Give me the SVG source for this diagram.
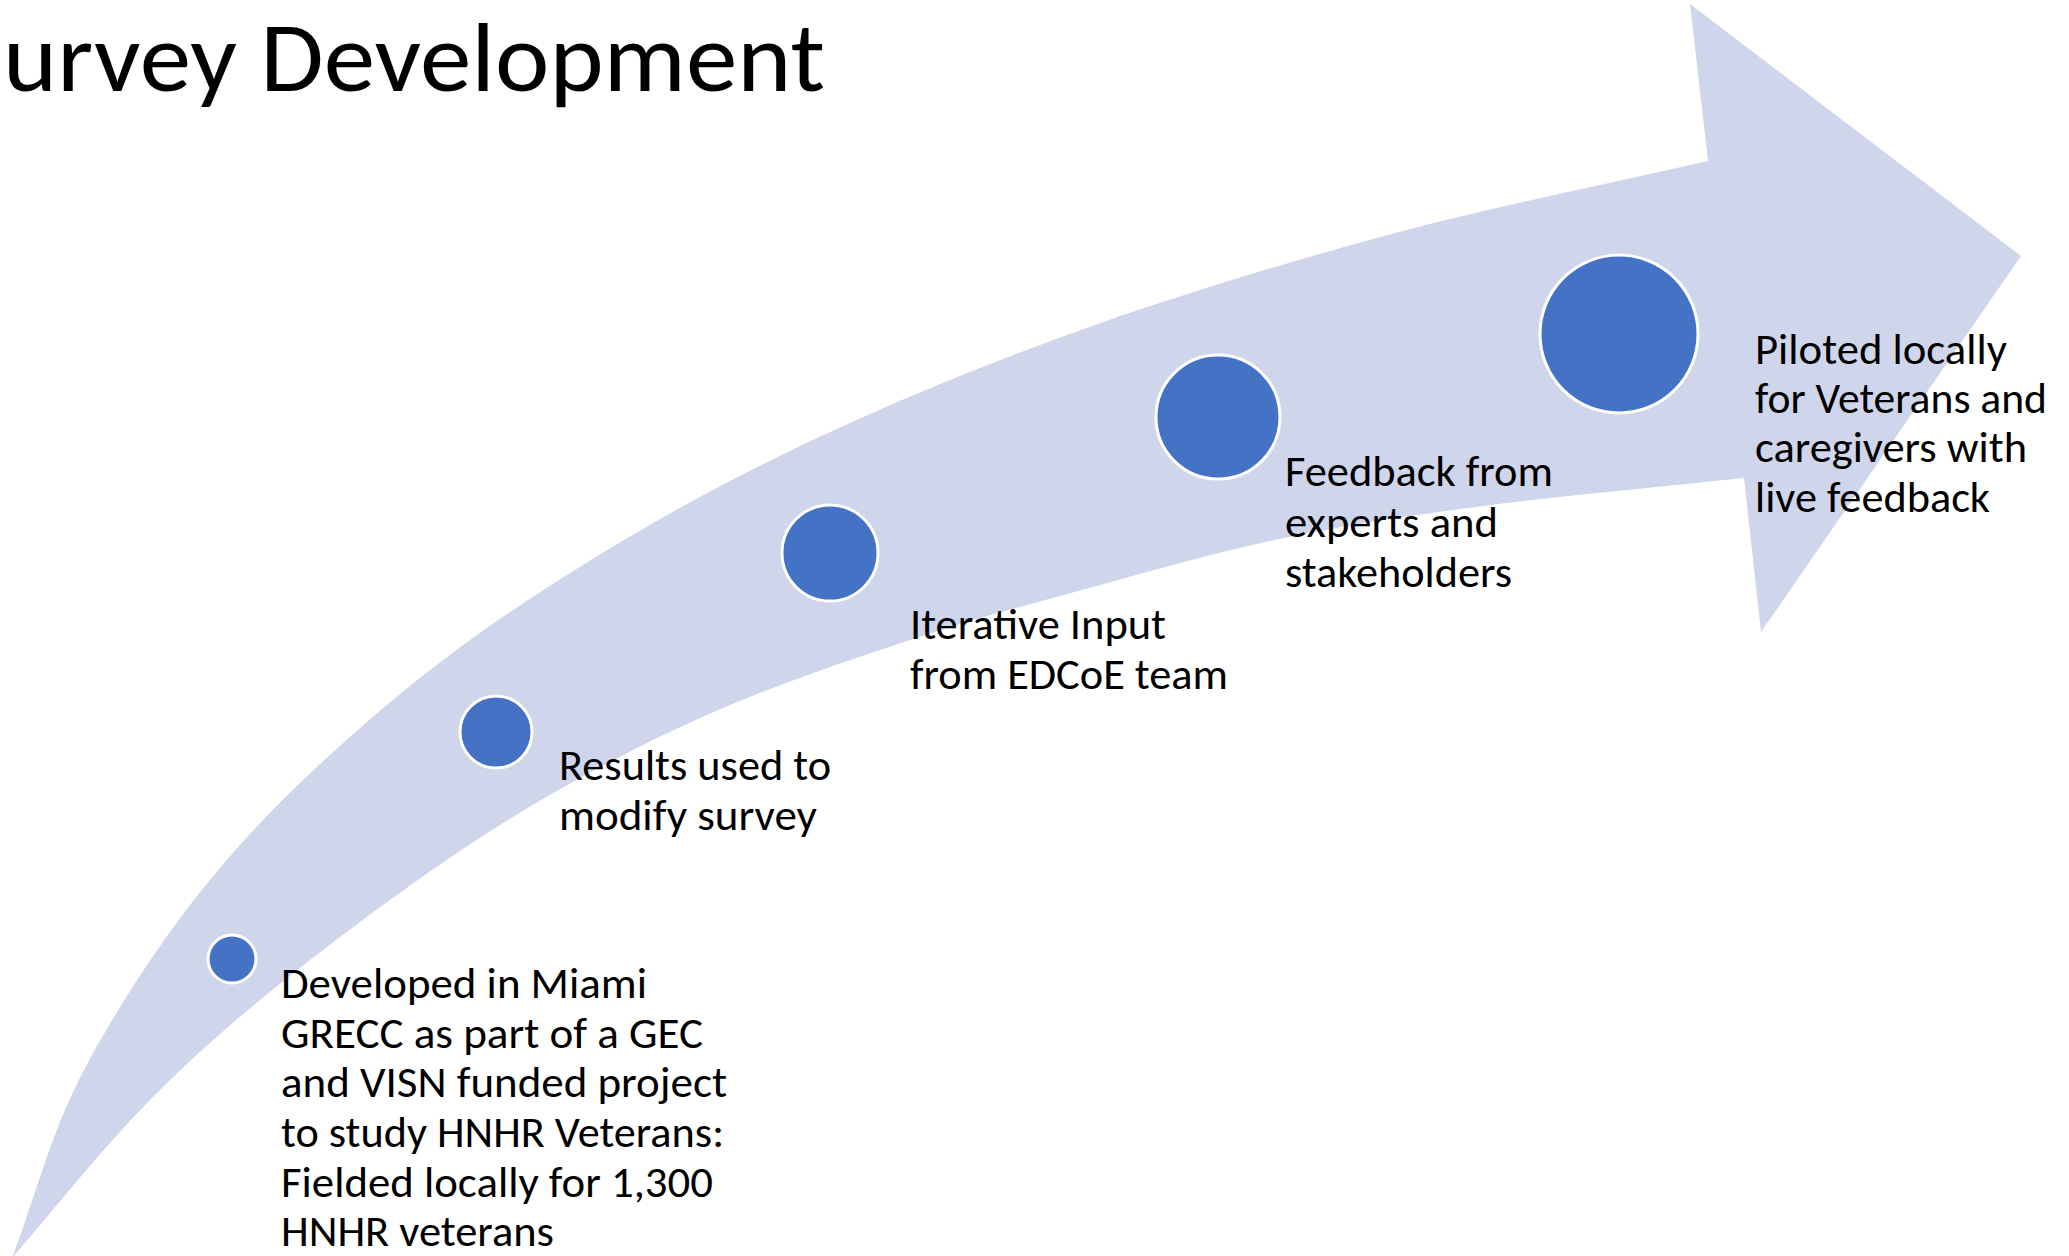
<svg xmlns="http://www.w3.org/2000/svg" width="2069" height="1256" viewBox="0 0 2069 1256">
  <style>
    .band { fill: #CFD5EA; stroke: none; }
    .dot { fill: #4472C4; stroke: #FFFFFF; stroke-width: 3; }
    .label { font-family: Carlito, Lato, "Liberation Sans", sans-serif; font-size: 44px; fill: #000000; }
    .title { font-family: Carlito, Lato, "Liberation Sans", sans-serif; font-size: 98px; fill: #000000; }
  </style>
  <rect x="0" y="0" width="2069" height="1256" fill="#FFFFFF"/>

  <!-- Title -->
  <text class="title" x="3" y="91" textLength="822" lengthAdjust="spacingAndGlyphs">urvey Development</text>

  <!-- Curved timeline arrow -->
  <g id="connectors">
    <path id="arrow" class="band" d="M 12,1258
      C 36.3,1194.7 50.5,1132.8 85,1068
      C 119.5,1003.2 166.7,931.2 219,869
      C 271.3,806.8 335.7,747.3 399,695
      C 462.3,642.7 527.5,598.7 599,555
      C 670.5,511.3 744.8,471.5 828,433
      C 911.2,394.5 1002.8,357.5 1098,324
      C 1193.2,290.5 1297.3,259.2 1399,232
      C 1500.7,204.8 1605,184.7 1708,161
      L 1690,4 L 2021,256 L 1761,632 L 1744,478
      C 1657,487.3 1559.7,496 1483,506
      C 1406.3,516 1347.8,524.8 1284,538
      C 1220.2,551.2 1162.3,568 1100,585
      C 1037.7,602 976.7,617.8 910,640
      C 843.3,662.2 768.3,687.2 700,718
      C 631.7,748.8 566.7,783.3 500,825
      C 433.3,866.7 358.3,922.2 300,968
      C 241.7,1013.8 198,1051.7 150,1100
      C 102,1148.3 58,1205.3 12,1258 Z"/>
  </g>

  <!-- Step 1 -->
  <g id="step1">
    <circle class="dot" cx="232" cy="959" r="24"/>
    <text class="label">
      <tspan x="281" y="998" textLength="366" lengthAdjust="spacingAndGlyphs">Developed in Miami</tspan>
      <tspan x="281" y="1048" textLength="422" lengthAdjust="spacingAndGlyphs">GRECC as part of a GEC</tspan>
      <tspan x="281" y="1097" textLength="446" lengthAdjust="spacingAndGlyphs">and VISN funded project</tspan>
      <tspan x="281" y="1147" textLength="443" lengthAdjust="spacingAndGlyphs">to study HNHR Veterans:</tspan>
      <tspan x="281" y="1197" textLength="432" lengthAdjust="spacingAndGlyphs">Fielded locally for 1,300</tspan>
      <tspan x="281" y="1246" textLength="273" lengthAdjust="spacingAndGlyphs">HNHR veterans</tspan>
    </text>
  </g>

  <!-- Step 2 -->
  <g id="step2">
    <circle class="dot" cx="496" cy="732" r="36"/>
    <text class="label">
      <tspan x="559" y="780" textLength="272" lengthAdjust="spacingAndGlyphs">Results used to</tspan>
      <tspan x="559" y="830" textLength="258" lengthAdjust="spacingAndGlyphs">modify survey</tspan>
    </text>
  </g>

  <!-- Step 3 -->
  <g id="step3">
    <circle class="dot" cx="830" cy="553" r="48"/>
    <text class="label">
      <tspan x="910" y="639" textLength="256" lengthAdjust="spacingAndGlyphs">Iterative Input</tspan>
      <tspan x="910" y="689" textLength="318" lengthAdjust="spacingAndGlyphs">from EDCoE team</tspan>
    </text>
  </g>

  <!-- Step 4 -->
  <g id="step4">
    <circle class="dot" cx="1218" cy="417" r="62"/>
    <text class="label">
      <tspan x="1285" y="486" textLength="268" lengthAdjust="spacingAndGlyphs">Feedback from</tspan>
      <tspan x="1285" y="537" textLength="213" lengthAdjust="spacingAndGlyphs">experts and</tspan>
      <tspan x="1285" y="587" textLength="227" lengthAdjust="spacingAndGlyphs">stakeholders</tspan>
    </text>
  </g>

  <!-- Step 5 -->
  <g id="step5">
    <circle class="dot" cx="1619" cy="334" r="79"/>
    <text class="label">
      <tspan x="1755" y="364" textLength="252" lengthAdjust="spacingAndGlyphs">Piloted locally</tspan>
      <tspan x="1755" y="413" textLength="292" lengthAdjust="spacingAndGlyphs">for Veterans and</tspan>
      <tspan x="1755" y="462" textLength="272" lengthAdjust="spacingAndGlyphs">caregivers with</tspan>
      <tspan x="1755" y="512" textLength="235" lengthAdjust="spacingAndGlyphs">live feedback</tspan>
    </text>
  </g>
</svg>
